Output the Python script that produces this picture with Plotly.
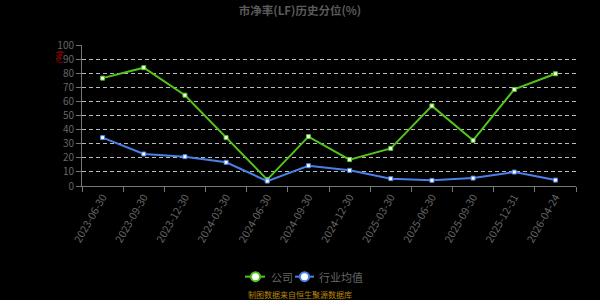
import plotly.graph_objects as go

categories = ["2023-06-30", "2023-09-30", "2023-12-30", "2024-03-30", "2024-06-30", "2024-09-30",
              "2024-12-30", "2025-03-30", "2025-06-30", "2025-09-30", "2025-12-31", "2026-04-24"]
company = [76.5, 83.9, 64.4, 34.3, 4.5, 35.0, 18.7, 26.7, 56.8, 32.4, 68.5, 79.6]
industry = [34.3, 22.7, 20.8, 16.8, 3.5, 14.4, 11.1, 5.2, 4.0, 5.6, 9.9, 4.2]
series_names = ["公司", "行业均值"]
yticks = [0, 10, 20, 30, 40, 50, 60, 70, 80, 90, 100]

GREEN = "#52c41a"
BLUE = "#4a80e8"
FONT = "Noto Sans CJK SC"

L, R, T, B = 82, 24, 45, 114.4
W, H = 600, 300
pw, ph = W - L - R, H - T - B


def px_to_paper(x, y):
    return (x - L) / pw, (H - B - y) / ph


fig = go.Figure()
for vals, col, nm in [(company, GREEN, series_names[0]), (industry, BLUE, series_names[1])]:
    fig.add_trace(go.Scatter(x=categories, y=vals, mode="lines+markers", name=nm, showlegend=False,
                             line=dict(color=col, width=2),
                             marker=dict(symbol="square", size=4, color="white", line=dict(color=col, width=1))))

shapes = []
annotations = []
# manual legend (lines + circles as shapes, labels as text)
legend_items = [(245, 265, 255.5, 269, series_names[0], GREEN), (295, 314, 304.5, 317, series_names[1], BLUE)]
ly = 276
for x0, x1, cx, tx, label, col in legend_items:
    px0, py = px_to_paper(x0, ly)
    px1, _ = px_to_paper(x1, ly)
    shapes.append(dict(type="line", xref="paper", yref="paper", x0=px0, x1=px1, y0=py, y1=py,
                       line=dict(color=col, width=2)))
    pcx, pcy = px_to_paper(cx, ly)
    shapes.append(dict(type="circle", xref="paper", yref="paper", xsizemode="pixel", ysizemode="pixel",
                       xanchor=pcx, yanchor=pcy, x0=-4.5, x1=4.5, y0=-4.5, y1=4.5,
                       fillcolor="white", line=dict(color=col, width=2)))
    ptx, pty = px_to_paper(tx, ly)
    annotations.append(dict(text=label, x=ptx, y=pty, xref="paper", yref="paper", xanchor="left",
                            yanchor="middle", showarrow=False, font=dict(size=11, color="#666666")))

ax1, ay1 = px_to_paper(58.5, 57)
ax2, ay2 = px_to_paper(300, 294)
annotations.append(dict(text="(%)", textangle=-90, x=ax1, y=ay1, xref="paper", yref="paper",
                        xanchor="center", yanchor="middle", showarrow=False,
                        font=dict(size=8, color="#e00000")))
annotations.append(dict(text="制图数据来自恒生聚源数据库", x=ax2, y=ay2, xref="paper", yref="paper",
                        xanchor="center", yanchor="middle",
                        showarrow=False, font=dict(size=8, color="#b8860b")))

fig.update_layout(
    width=W, height=H,
    paper_bgcolor="black", plot_bgcolor="black",
    margin=dict(l=L, r=R, t=T, b=B),
    font=dict(family=FONT, color="#666666", size=10),
    showlegend=False,
    title=dict(text="<b>市净率(LF)历史分位(%)</b>", x=0.5, xref="container", xanchor="center",
               y=1 - 10.5 / H, yref="container", yanchor="middle",
               font=dict(size=11.5, color="#5a5a5a", family=FONT)),
    xaxis=dict(type="category", categoryorder="array", categoryarray=categories,
               range=[-0.5, len(categories) - 0.5],
               showline=True, linecolor="#777777", linewidth=1,
               ticks="outside", tickson="boundaries", ticklen=5, tickcolor="#777777",
               tickangle=-60, tickfont=dict(size=10.5, color="#666666"), showgrid=False, zeroline=False),
    yaxis=dict(range=[0, 100], tickvals=yticks, showline=True, linecolor="#777777", linewidth=1,
               ticks="outside", ticklen=5, tickcolor="#777777", tickfont=dict(size=10, color="#666666"),
               showgrid=True, gridcolor="#bbbbbb", griddash="4px,3px", gridwidth=1, zeroline=False),
    shapes=shapes,
    annotations=annotations,
)

fig.write_html("out.html")
